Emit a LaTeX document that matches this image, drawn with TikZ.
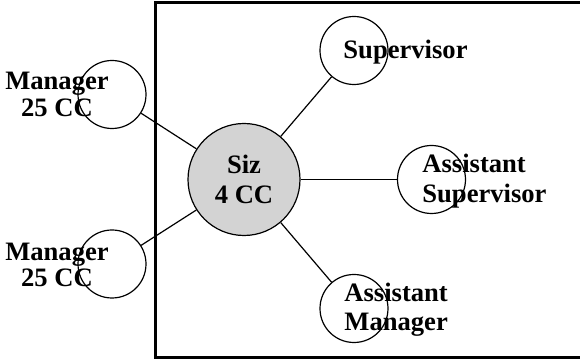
\documentclass[tikz,border=0pt]{standalone}
\usepackage{fontspec}
\setmainfont{Liberation Serif}
\definecolor{sizgray}{RGB}{211,211,211}
\tikzset{
  role/.style={circle, draw=black, line width=0.6pt, minimum size=34pt, inner sep=0pt},
  hub/.style={circle, draw=black, line width=0.6pt, fill=sizgray, minimum size=56pt, inner sep=0pt, align=center, font=\fontsize{13.3}{15}\selectfont\bfseries},
  lbl/.style={inner sep=0pt, font=\fontsize{13.3}{#1}\selectfont\bfseries},
  lbl/.default=13.4,
  link/.style={line width=0.6pt},
  frame/.style={line width=1.5pt}
}
\begin{document}
\begin{tikzpicture}[x=0.5pt,y=-0.5pt]
\useasboundingbox (0,0) rectangle (580,363);
\begin{scope}
\clip (0,0) rectangle (580,363);
\draw[frame] (600,2.5) -- (155.5,2.5) -- (155.5,357.5) -- (600,357.5);
\end{scope}
\node[hub] (siz) at (244,179.5) {Siz\\4 CC};
\node[role] (sup) at (354,50.5) {};
\node[role] (asup) at (431.5,179.5) {};
\node[role] (aman) at (354,308.5) {};
\node[role] (man1) at (112,94.5) {};
\node[role] (man2) at (112,264) {};
\draw[link] (siz) -- (sup);
\draw[link] (siz) -- (asup);
\draw[link] (siz) -- (aman);
\draw[link] (siz) -- (man1);
\draw[link] (siz) -- (man2);
\node[lbl=13.35, align=center, anchor=base] (lman1) at (57,116.7) {Manager\\25 CC};
\node[lbl=13, align=center, anchor=base] (lman2) at (57,287) {Manager\\25 CC};
\node[lbl, anchor=base] (lsup) at (405.5,59) {Supervisor};
\node[lbl=15, align=left, anchor=base west] (lasup) at (422,203) {Assistant\\Supervisor};
\node[lbl=14.75, align=left, anchor=base west] (laman) at (344,331) {Assistant\\Manager};
\end{tikzpicture}
\end{document}
